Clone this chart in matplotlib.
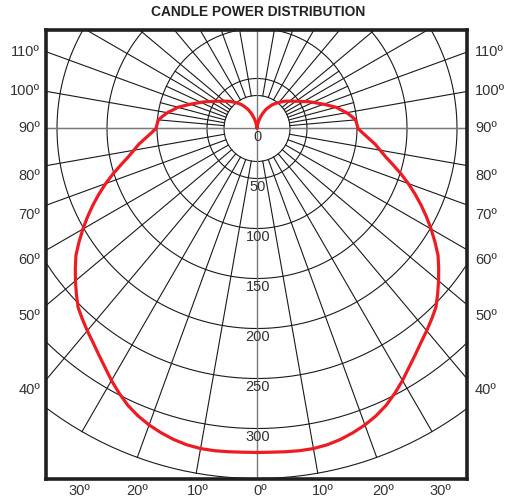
import numpy as np
import matplotlib.pyplot as plt

# candle power (cd) vs angle from nadir
angles = [0, 2.5, 5, 7.5, 10, 12.5, 15, 17.5, 20, 22.5, 25, 27.5, 30, 32.5, 35,
          37.5, 40, 42.5, 45, 47.5, 50, 52.5, 55, 57.5, 60, 62.5, 65, 67.5, 70,
          72.5, 75, 77.5, 80, 82.5, 85, 87.5, 90, 92.5, 95, 97.5, 100, 102.5,
          105, 107.5, 110, 112.5, 115, 117.5, 120, 122.5, 125, 127.5, 130,
          132.5, 135, 137.5, 140, 142.5, 145, 147.5, 150, 152.5, 155, 157.5,
          160, 162.5, 165, 167.5, 170, 172.5, 175, 177.5, 180]
candela = [324, 324, 324.5, 325, 325, 324, 322, 319, 315.5, 311, 305.5, 298.5,
           291, 283, 276, 269.5, 264, 258.5, 253, 245, 237, 229, 221, 211, 201,
           191, 181, 171, 161, 151, 141, 132, 125, 119, 112, 106, 101, 100, 99,
           95, 91, 86, 82, 76, 71, 66, 62, 58, 54, 50.5, 47.5, 45, 42.5, 40.5,
           38.5, 36, 34, 32, 30, 28, 25.5, 23, 21, 18, 15.5, 12.5, 10, 7.5, 5,
           3, 1.5, 0.5, 0]

rings = [33, 50, 100, 150, 200, 250, 300, 350]
ring_labels = [0, 50, 100, 150, 200, 250, 300]
side_angles = [40, 50, 60, 70, 80, 90, 100, 110]
bottom_angles = [30, 20, 10, 0, 10, 20, 30]
bottom_signs = [-1, -1, -1, 0, 1, 1, 1]

plt.rcParams['font.family'] = ['Liberation Sans', 'DejaVu Sans']

fig = plt.figure(figsize=(5.21, 5.04), dpi=100)
ax = fig.add_axes([46/521, 25/504, 421/521, 449/504])
ax.set_xlim(-211, 210)
ax.set_ylim(-350.5, 98.5)
ax.set_xticks([])
ax.set_yticks([])
for s in ax.spines.values():
    s.set_linewidth(2.6)
    s.set_color('#231f20')

gc = '#1a1a1a'
lw = 0.8
t = np.linspace(0, 2*np.pi, 400)
for r in rings:
    ax.plot(r*np.cos(t), r*np.sin(t), color=gc, lw=lw)

# radial lines every 10 deg
for a in range(10, 180, 10):
    th = np.radians(a)
    for sg in (-1, 1):
        ax.plot([sg*33*np.sin(th), sg*350*np.sin(th)],
                [-33*np.cos(th), -350*np.cos(th)], color=gc, lw=lw)
# extra lines near the centre, upper half
for a in (95, 105, 115, 125):
    th = np.radians(a)
    for sg in (-1, 1):
        ax.plot([sg*33*np.sin(th), sg*100*np.sin(th)],
                [-33*np.cos(th), -100*np.cos(th)], color=gc, lw=lw)

ax.axhline(0, color='#7a7a7a', lw=1)
ax.axvline(0, color='#7a7a7a', lw=1)

for v in ring_labels:
    ax.text(1, -v - 9, str(v), ha='center', va='center', fontsize=10.5,
            color='#333333')

# red distribution curve (symmetric)
th = np.radians(angles)
cd = np.array(candela)
x = np.concatenate([-cd*np.sin(th), (cd*np.sin(th))[::-1]])
y = np.concatenate([-cd*np.cos(th), (-cd*np.cos(th))[::-1]])
ax.plot(x, y, color='#ed1c24', lw=2.3, solid_joinstyle='round', zorder=5)

for a in side_angles:
    yy = -211/np.tan(np.radians(a)) if a != 90 else 0
    if a < 90:
        yy -= 10
    ax.text(-217, yy, f'{a}º', ha='right', va='center', fontsize=10.5,
            color='#333333', clip_on=False)
    ax.text(218, yy, f'{a}º', ha='left', va='center', fontsize=10.5,
            color='#333333', clip_on=False)

for a, sg in zip(bottom_angles, bottom_signs):
    xx = sg*350*1.03*np.sin(np.radians(a)) + 3
    ax.text(xx, -363, f'{a}º', ha='center', va='center', fontsize=10.5,
            color='#333333', clip_on=False)

fig.text(258/521, 1 - 12/504, 'CANDLE POWER DISTRIBUTION', ha='center',
         va='center', fontsize=9.9, fontweight='bold', color='#222222')

fig.savefig('out.png', dpi=100)
